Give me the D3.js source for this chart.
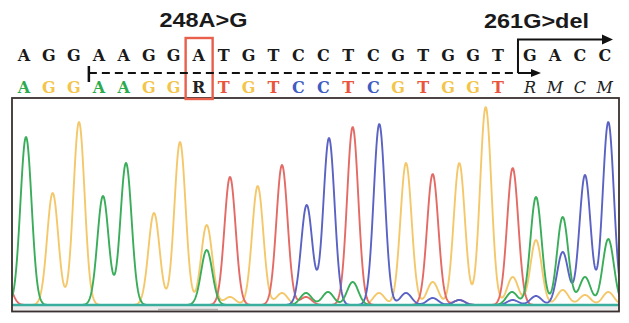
<!DOCTYPE html>
<html>
<head>
<meta charset="utf-8">
<script src="https://cdn.jsdelivr.net/npm/d3@7"></script>
<style>
  html, body { margin: 0; padding: 0; background: #fff; }
  svg { display: block; }
</style>
</head>
<body>
<svg id="chart" width="629" height="323"></svg>
<script>
// ---------- DATA ----------
const referenceSeq = ["A","G","G","A","A","G","G","A","T","G","T","C","C","T","C","G","T","G","G","T","G","A","C","C"];
const calledSeq    = ["A","G","G","A","A","G","G","R","T","G","T","C","C","T","C","G","T","G","G","T","R","M","C","M"];
const mutationLabels = ["248A>G", "261G>del"];
const mutationIndex = [7, 20];          // base index of each mutation
const readStartIndex = 2.6;             // start of dashed read (base units)

// peaks: [scan position, intensity]
const peaksA = [[14,1680],[91,1090],[114,1420],[194.7,550],[294,120],[316,130],[340.7,230],[500,130],[524,1080],[550.7,880],[573,280],[596.3,660]];
const peaksG = [[40.7,1120],[67,1830],[142,920],[168,1630],[194.7,800],[218,80],[245.7,1190],[270,120],[367,120],[394,1420],[420.7,230],[447.3,1420],[473.7,1980],[500.7,280],[524,650],[550.7,150],[573,100],[596.3,130]];
const peaksT = [[-6,250],[218,1280],[270,1400],[294,80],[340.7,1780],[420.7,1310],[447.3,50],[500.7,1370]];
const peaksC = [[294.7,1000],[317,1670],[367.3,1810],[394,120],[420.7,70],[447.3,50],[500.7,50],[524,90],[550.7,530],[573,1300],[596.3,1830]];

// ---------- STYLE ----------
const baseColor = {A:"#2eaa4e", G:"#f3c54a", T:"#e8553c", C:"#3f5cc2", R:"#222", M:"#222"};
const traceColor = {A:"#3aad5a", G:"#f4c86a", T:"#e46a66", C:"#5a62c4"};

const svg = d3.select("#chart");
const plot = {left: 12, top: 98, right: 619, bottom: 311.5};
const baselineY = 305;

const x = d3.scaleLinear().domain([0, 607]).range([plot.left, plot.right]);
const y = d3.scaleLinear().domain([0, 2070]).range([baselineY, plot.top]);

// sequence letter positions (base index -> px)
const seqX = d3.scaleLinear().domain([0, 19]).range([24, 498]);
const posOf = i => i >= 20 ? seqX(i) + 7 : seqX(i);

// ---------- PLOT BOX ----------
svg.append("rect").attr("x", plot.left).attr("y", baselineY + 1)
  .attr("width", plot.right - plot.left).attr("height", plot.bottom - baselineY - 1)
  .attr("fill", "#ececec");

svg.append("defs").append("clipPath").attr("id", "clip")
  .append("rect").attr("x", plot.left).attr("y", plot.top)
  .attr("width", plot.right - plot.left).attr("height", baselineY - plot.top + 1);

const sigma = 5.6;
const samples = d3.range(-20, 620, 0.5);
function trace(peaks) {
  return samples.map(s => [s, d3.sum(peaks, p => p[1] * Math.exp(-((s - p[0]) ** 2) / (2 * sigma * sigma)))]);
}
const line = d3.line().x(d => x(d[0])).y(d => y(d[1]));

const traceG = svg.append("g").attr("clip-path", "url(#clip)");
[["G", peaksG], ["T", peaksT], ["C", peaksC], ["A", peaksA]].forEach(([b, pk]) => {
  traceG.append("path").attr("d", line(trace(pk)))
    .attr("fill", "none").attr("stroke", traceColor[b])
    .attr("stroke-width", 1.9).attr("stroke-linejoin", "round");
});

// baseline
svg.append("line").attr("x1", plot.left + 1).attr("x2", plot.right - 1)
  .attr("y1", baselineY).attr("y2", baselineY)
  .attr("stroke", "#3aae9e").attr("stroke-width", 2.4);

// small scroll indicator
svg.append("line").attr("x1", 158).attr("x2", 218).attr("y1", 309.5).attr("y2", 309.5)
  .attr("stroke", "#b0b0b0").attr("stroke-width", 1.5);

svg.append("rect").attr("x", plot.left).attr("y", plot.top)
  .attr("width", plot.right - plot.left).attr("height", plot.bottom - plot.top)
  .attr("fill", "none").attr("stroke", "#3a3030").attr("stroke-width", 1.8);

// ---------- SEQUENCES ----------
const seqFont = "'DejaVu Serif', 'Liberation Serif', serif";
svg.append("g").selectAll("text").data(referenceSeq).join("text")
  .attr("x", (d, i) => posOf(i)).attr("y", 61)
  .attr("text-anchor", "middle")
  .attr("font-family", seqFont).attr("font-weight", "bold").attr("font-size", 16)
  .attr("fill", "#1a1a1a").text(d => d);

svg.append("g").selectAll("text").data(calledSeq).join("text")
  .attr("x", (d, i) => posOf(i)).attr("y", 93)
  .attr("text-anchor", "middle")
  .attr("font-family", seqFont)
  .attr("font-weight", (d, i) => i >= 20 ? "normal" : "bold")
  .attr("font-style", (d, i) => i >= 20 ? "italic" : "normal")
  .attr("font-size", 16)
  .attr("fill", (d, i) => i >= 20 ? "#222" : baseColor[d]).text(d => d);

// ---------- ANNOTATIONS ----------
const lab = svg.append("g").attr("font-family", "'Liberation Sans', Arial, sans-serif")
  .attr("font-weight", "bold").attr("font-size", 20).attr("fill", "#1a1a1a");
lab.append("text").attr("x", 159.5).attr("y", 27).attr("textLength", 88)
  .attr("lengthAdjust", "spacingAndGlyphs").text(mutationLabels[0]);
lab.append("text").attr("x", 484).attr("y", 27.5).attr("textLength", 105)
  .attr("lengthAdjust", "spacingAndGlyphs").text(mutationLabels[1]);

// red box around mutation 1
const bx = posOf(mutationIndex[0]);
svg.append("rect").attr("x", bx - 13).attr("y", 38).attr("width", 27).attr("height", 61)
  .attr("fill", "none").attr("stroke", "#e8604c").attr("stroke-width", 2.4);

// dashed read line
const xStart = seqX(readStartIndex);
const xVert = (seqX(19) + posOf(20)) / 2 + 4;
svg.append("line").attr("x1", xStart).attr("x2", xVert).attr("y1", 73).attr("y2", 73)
  .attr("stroke", "#111").attr("stroke-width", 2).attr("stroke-dasharray", "8,5");
svg.append("line").attr("x1", xStart).attr("x2", xStart).attr("y1", 66).attr("y2", 82)
  .attr("stroke", "#111").attr("stroke-width", 2.5);

// deletion bracket arrows
svg.append("path")
  .attr("d", `M${xVert},73 L${xVert},39.5 L${x(590)},39.5`)
  .attr("fill", "none").attr("stroke", "#111").attr("stroke-width", 2);
svg.append("path")
  .attr("d", `M${x(590)},34.5 L${x(601)},39.5 L${x(590)},44.5 Z`).attr("fill", "#111");
svg.append("path")
  .attr("d", `M${xVert},73 L${xVert + 14},73`)
  .attr("fill", "none").attr("stroke", "#111").attr("stroke-width", 2);
svg.append("path")
  .attr("d", `M${xVert + 13},69 L${xVert + 23},73 L${xVert + 13},77 Z`).attr("fill", "#111");
</script>
</body>
</html>
